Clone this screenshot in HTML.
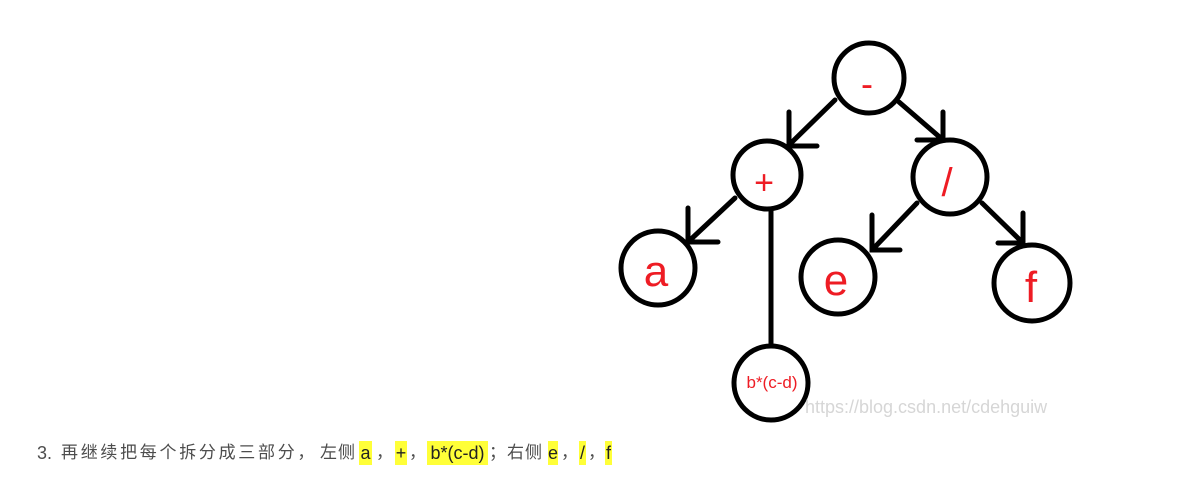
<!DOCTYPE html>
<html><head><meta charset="utf-8"><style>
body{margin:0;width:1187px;height:485px;background:#fff;overflow:hidden;position:relative}
svg{position:absolute;left:0;top:0}
.s{position:absolute;top:441px;font:17px "Liberation Sans","Noto Sans CJK SC",sans-serif;color:#4d4d4d;white-space:nowrap;line-height:24px;height:24px}
.h{background:#ffff38;color:#222;text-align:center;font-size:18px}
</style></head><body>
<svg width="1187" height="485" viewBox="0 0 1187 485">
<g fill="none" stroke="#000" stroke-width="5" stroke-linecap="round">
<circle cx="869" cy="78" r="35"/>
<circle cx="767" cy="175" r="34"/>
<circle cx="950" cy="177" r="37"/>
<circle cx="658" cy="268" r="37"/>
<circle cx="838" cy="277" r="37"/>
<circle cx="1032" cy="283" r="38"/>
<circle cx="771" cy="383" r="37"/>
<path d="M835 100 L789 145 M789 112 V146 H817"/>
<path d="M899 102 L943 140 M943 112 V140 H917"/>
<path d="M735 198 L688 242 M688 208 V242 H718"/>
<path d="M771 210 V345"/>
<path d="M917 203 L872 250 M872 215 V250 H900"/>
<path d="M982 203 L1023 243 M1023 213 V243 H998"/>
</g>
<g fill="#ee1c24" font-family="Liberation Sans, sans-serif" text-anchor="middle">
<text x="867" y="96" font-size="36">-</text>
<text x="764" y="194" font-size="34">+</text>
<text x="947" y="196" font-size="40">/</text>
<text x="656" y="286" font-size="44">a</text>
<text x="836" y="295" font-size="44">e</text>
<text x="1031" y="302" font-size="44">f</text>
<text x="772" y="388" font-size="17">b*(c-d)</text>
</g>
<text x="805" y="413" font-family="Liberation Sans, sans-serif" font-size="18" fill="#ccc" opacity="0.8">https://blog.csdn.net/cdehguiw</text>
</svg>
<span class="s" style="left:37px;font-size:18px">3.</span>
<span class="s" style="left:61px;letter-spacing:2.7px">再继续把每个拆分成三部分，</span>
<span class="s" style="left:320px;letter-spacing:1px">左侧</span>
<span class="s h" style="left:359px;width:13px">a</span>
<span class="s" style="left:376px">，</span>
<span class="s h" style="left:395px;width:12px">+</span>
<span class="s" style="left:409px">，</span>
<span class="s h" style="left:427px;width:61px">b*(c-d)</span>
<span class="s" style="left:489px">；</span>
<span class="s" style="left:507px;letter-spacing:1px">右侧</span>
<span class="s h" style="left:548px;width:10px">e</span>
<span class="s" style="left:561px">，</span>
<span class="s h" style="left:579px;width:7px">/</span>
<span class="s" style="left:588px">，</span>
<span class="s h" style="left:605px;width:7px">f</span>
</body></html>
